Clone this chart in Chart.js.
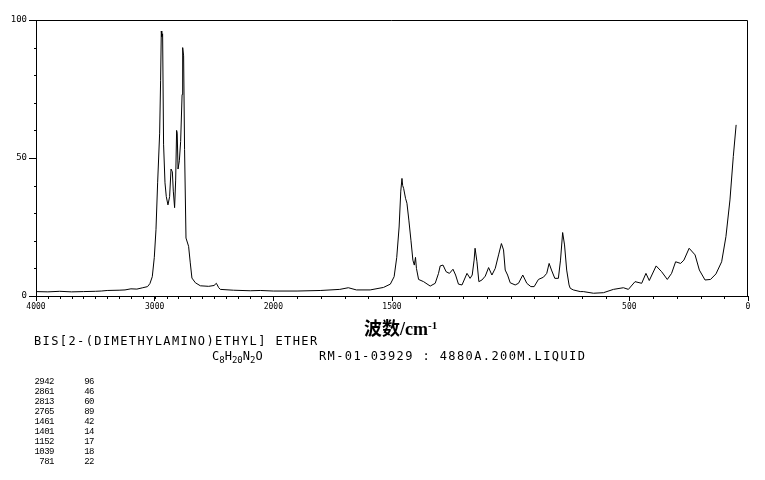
<!DOCTYPE html>
<html>
<head>
<meta charset="utf-8">
<script src="https://cdn.jsdelivr.net/npm/chart.js@4/dist/chart.umd.min.js"></script>
<style>
  body { margin: 0; background: #fff; }
  #wrap { position: relative; width: 765px; height: 480px; }
  .t { position: absolute; white-space: nowrap; color: #000; }
  .big { font: 12px 'DejaVu Sans Mono', monospace; letter-spacing: 1.4px; line-height: 13px; }
  .big sub { font-size: 9px; vertical-align: -3px; letter-spacing: 0; }
  .peaks { font: 9px 'Liberation Mono', monospace; letter-spacing: -0.5px; line-height: 10px; }
  #xtitle { font: bold 18px 'Liberation Serif', 'Noto Sans CJK SC', serif; }
  #xtitle sup { font-size: 11px; vertical-align: 6px; }
</style>
</head>
<body>
<div id="wrap">
  <canvas id="chart" width="765" height="480"></canvas>
  <div class="t" id="xtitle" style="left:364px; top:314px;">波数/cm<sup>-1</sup></div>
  <div class="t big" style="left:34px; top:335px;">BIS[2-(DIMETHYLAMINO)ETHYL] ETHER</div>
  <div class="t big" style="left:212px; top:350px; letter-spacing:0;">C<sub>8</sub>H<sub>20</sub>N<sub>2</sub>O</div>
  <div class="t big" style="left:319px; top:350px;">RM-01-03929 : 4880A.200M.LIQUID</div>
  <div class="t peaks" id="peakNums" style="left:20px; top:377px; width:34px; text-align:right;"></div>
  <div class="t peaks" id="peakVals" style="left:66px; top:377px; width:28px; text-align:right;"></div>
</div>
<script>
// Raman spectrum (wavenumber cm-1, relative intensity)
const wavenumbers = [
  4000, 3900, 3800, 3700, 3600, 3500, 3450, 3400, 3300, 3250, 3200, 3150, 3100, 3060, 3040,
  3020, 3003, 2989, 2975, 2958, 2950, 2944, 2940, 2933, 2925, 2913, 2902, 2888, 2874, 2862,
  2855, 2851, 2843, 2832, 2823, 2815, 2810, 2803, 2792, 2781, 2769, 2764, 2756, 2748, 2736,
  2714, 2700, 2686, 2657, 2615, 2545, 2500, 2480, 2460, 2447, 2337, 2194, 2110, 2000, 1900,
  1800, 1720, 1684, 1650, 1592, 1536, 1507, 1491, 1480, 1470, 1463, 1458, 1455, 1451, 1443,
  1437, 1429, 1420, 1412, 1406, 1401, 1397, 1388, 1367, 1339, 1318, 1304, 1297, 1285, 1272,
  1258, 1243, 1232, 1220, 1205, 1184, 1171, 1162, 1154, 1150, 1142, 1134, 1121, 1107, 1093,
  1079, 1065, 1051, 1039, 1030, 1023, 1013, 1002, 981, 967, 949, 932, 915, 901, 883,
  862, 848, 838, 828, 814, 799, 790, 781, 773, 764, 754, 749, 736, 707, 694,
  651, 609, 567, 525, 504, 476, 448, 430, 416, 387, 364, 340, 322, 305, 284,
  270, 248, 223, 205, 181, 158, 135, 111, 93, 76, 62, 50
];
const intensity = [
  1.6, 1.5, 1.7, 1.5, 1.6, 1.7, 1.8, 2.0, 2.1, 2.2, 2.6, 2.5, 3.0, 3.4, 4.5,
  7, 14, 24, 41, 59, 78, 96, 94, 95, 55, 41, 36, 33, 36, 46,
  46, 45, 38, 32, 42, 60, 59, 46, 49, 56, 73, 90, 87, 53, 21,
  18, 12, 6.5, 4.8, 3.7, 3.5, 3.8, 4.6, 3.0, 2.4, 2.1, 1.9, 2.0, 1.8, 1.8,
  2.0, 2.4, 3.0, 2.2, 2.2, 3.1, 4.3, 7, 14, 25, 38, 42.6, 40, 39, 35.4,
  33.6, 27.5, 20, 13, 11.2, 14, 10, 6, 5.2, 3.6, 4.6, 8.2, 10.9, 11.2, 8.8,
  8.2, 9.7, 7.6, 4.3, 4, 8.2, 6.4, 7.6, 13, 17.3, 12.4, 5.2, 5.8, 7.2, 10.3,
  7.6, 10, 14.9, 19, 16.7, 9.4, 7.6, 4.8, 4, 4.6, 7.6, 4.6, 3.4, 3.4, 6,
  6.8, 8.2, 11.8, 9.4, 6.4, 6.4, 13, 23, 18.5, 9.4, 4, 2.8, 2.2, 1.6, 1.6,
  1.0, 1.2, 2.4, 3.0, 2.4, 5.2, 4.6, 8.2, 5.6, 10.9, 8.8, 6, 8.2, 12.4, 11.8,
  13, 17.3, 14.9, 9.4, 5.8, 6, 8, 12.4, 21.5, 34.8, 50.5, 62
];

// axis ticks
const xTicks = [4000, 3000, 2000, 1500, 500, 0];
const xTickLabels = ['4000', '3000', '2000', '1500', '500', '0'];
const yTicks = [0, 50, 100];
const yTickLabels = ['0', '50', '100'];

// peak table
const peakWn = ['2942', '2861', '2813', '2765', '1461', '1401', '1152', '1039', '781'];
const peakInt = ['96', '46', '60', '89', '42', '14', '17', '18', '22'];

document.getElementById('peakNums').innerHTML = peakWn.join('<br>');
document.getElementById('peakVals').innerHTML = peakInt.join('<br>');

// x scale is compressed 2:1 above 2000 cm-1, like the spectrometer chart paper
const SPLIT = 2000;
class RamanScale extends Chart.LinearScale {
    getPixelForValue(value) {
        const u = value >= SPLIT ? (4000 - value) / 2 : 1000 + (SPLIT - value);
        return this.getPixelForDecimal(u / 3000);
    }
    getValueForPixel(pixel) {
        const u = this.getDecimalForPixel(pixel) * 3000;
        return u <= 1000 ? 4000 - 2 * u : SPLIT - (u - 1000);
    }
}
RamanScale.id = 'raman';
RamanScale.defaults = Chart.LinearScale.defaults;
Chart.register(RamanScale);

const xMinor = [];
for (let v = 0; v <= 4000; v += 100) xMinor.push(v);
const yMinor = [];
for (let v = 0; v <= 100; v += 10) yMinor.push(v);

const frame = {
    id: 'frame',
    afterDraw(chart) {
        const { ctx, chartArea: a, scales: { x, y } } = chart;
        ctx.save();
        ctx.strokeStyle = '#000';
        ctx.lineWidth = 1;
        ctx.beginPath();
        const top = Math.round(a.top) + 0.5;
        const right = Math.round(a.right) - 0.5;
        ctx.moveTo(a.left, top);
        ctx.lineTo(right, top);
        ctx.lineTo(right, a.bottom);
        xMinor.forEach(v => {
            const px = Math.round(x.getPixelForValue(v)) + 0.5;
            ctx.moveTo(px, a.bottom);
            ctx.lineTo(px, a.bottom + 3);
        });
        yMinor.forEach(v => {
            const py = Math.round(y.getPixelForValue(v)) + 0.5;
            ctx.moveTo(a.left - 2, py);
            ctx.lineTo(a.left, py);
        });
        ctx.stroke();
        ctx.restore();
    }
};

const ctx = document.getElementById('chart').getContext('2d');
new Chart(ctx, {
    type: 'line',
    data: {
        datasets: [{
            data: wavenumbers.map((w, i) => ({ x: w, y: intensity[i] })),
            borderColor: '#000',
            borderWidth: 1,
            pointRadius: 0,
            tension: 0,
            fill: false
        }]
    },
    options: {
        responsive: false,
        animation: false,
        events: [],
        layout: { padding: { top: 20, right: 17, bottom: 164, left: 0 } },
        plugins: { legend: { display: false }, tooltip: { enabled: false } },
        scales: {
            x: {
                type: 'raman',
                min: 0,
                max: 4000,
                afterBuildTicks: s => { s.ticks = xTicks.map(v => ({ value: v })); },
                afterFit: s => { s.height = 20; },
                border: { display: true, color: '#000', width: 1 },
                grid: { drawOnChartArea: false, color: '#000', tickLength: 5 },
                ticks: {
                    autoSkip: false,
                    maxRotation: 0,
                    padding: 1,
                    color: '#000',
                    font: { family: "'DejaVu Sans Mono', monospace", size: 8 },
                    callback: (v, i) => xTickLabels[i]
                }
            },
            y: {
                type: 'linear',
                min: 0,
                max: 100,
                afterBuildTicks: s => { s.ticks = yTicks.map(v => ({ value: v })); },
                afterFit: s => { s.width = 36; },
                border: { display: true, color: '#000', width: 1 },
                grid: { drawOnChartArea: false, color: '#000', tickLength: 7 },
                ticks: {
                    padding: 2,
                    color: '#000',
                    font: { family: "'DejaVu Sans Mono', monospace", size: 9 },
                    callback: (v, i) => yTickLabels[i]
                }
            }
        }
    },
    plugins: [frame]
});
</script>
</body>
</html>
